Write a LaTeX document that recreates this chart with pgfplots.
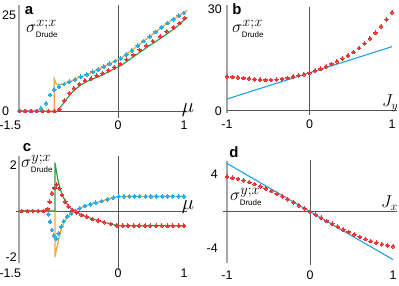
\documentclass[border=0pt]{standalone}
\usepackage{fontspec}
\setmainfont{Liberation Sans}
\usepackage{pgfplots}
\pgfplotsset{compat=1.18}
\definecolor{cred}{RGB}{233,52,52}
\definecolor{cblue}{RGB}{41,171,226}
\definecolor{corange}{RGB}{246,163,66}
\definecolor{cgreen}{RGB}{40,165,75}
\definecolor{cline}{RGB}{30,160,225}
\definecolor{axgray}{RGB}{165,165,165}
\definecolor{zgray}{RGB}{85,85,85}
\newcommand{\sig}[1]{\fontsize{19}{20}\selectfont$\sigma^{#1}_{\mbox{\fontsize{8}{9}\selectfont Drude}}$}
\tikzset{
  gl/.style={axgray, line width=1.8pt},
  zl/.style={zgray, line width=0.9pt},
}
\pgfplotsset{
  panel/.style={scale only axis, clip=false, axis line style={draw=none},
    major tick length=0pt, tick style={draw=none},
    ticklabel style={font=\fontsize{12.5}{14}\selectfont, inner sep=0pt},
    xticklabel style={anchor=center}},
  dotR/.style={only marks, mark=*, mark size=1.85pt, color=cred, mark options={fill=cred, draw=cred, line width=0pt}},
  dotB/.style={only marks, mark=*, mark size=1.85pt, color=cblue, mark options={fill=cblue, draw=cblue, line width=0pt}},
  lnO/.style={no marks, color=corange, line width=1.3pt},
  lnG/.style={no marks, color=cgreen, line width=1.2pt},
  lnB/.style={no marks, color=cline, line width=1.1pt},
}
\begin{document}
\begin{tikzpicture}
\useasboundingbox (0,0) rectangle (399bp,286bp);
% ---------------- panel a
\begin{axis}[panel, at={(19bp,168bp)}, anchor=south west, width=165bp, height=113bp,
  xmin=-1.5, xmax=1, ymin=-1.82, ymax=27.6,
  xtick={-1.5,0,1}, xticklabels={\makebox[0pt][r]{-1.5\kern-2bp},0,1}, xticklabel style={yshift=-7bp},
  ytick={0,25}, yticklabels={0,25}, yticklabel style={anchor=west, xshift=-17bp}]
\draw[gl] (-1.5,-0.5) -- (-1.5,27.6);
\draw[zl] (0,-1.82) -- (0,27.6);
\draw[zl] (-1.5,0) -- (1.05,0);
\addplot[dotB] coordinates {(-1.5,0) (-1.413,0) (-1.326,0) (-1.24,0) (-1.167,0.7) (-1.09,2.0) (-1.03,4.2) (-0.965,5.6) (-0.894,6.3) (-0.818,7.0) (-0.738,7.6) (-0.65,8.2) (-0.565,8.9) (-0.474,9.5) (-0.383,10.2) (-0.3,10.8) (-0.215,11.6) (-0.13,12.3) (-0.045,13.0) (0.04,13.7) (0.125,14.7) (0.21,15.8) (0.3,17.0) (0.39,18.2) (0.48,19.4) (0.57,20.6) (0.66,21.8) (0.75,22.9) (0.84,23.9) (0.92,24.8) (1.0,25.5)};
\addplot[dotR] coordinates {(-1.485,0) (-1.4,0) (-1.313,0) (-1.226,0) (-1.139,0) (-1.052,0) (-0.965,0) (-0.89,0.45) (-0.814,2.7) (-0.738,4.6) (-0.667,5.9) (-0.586,7.0) (-0.5,7.9) (-0.409,8.5) (-0.323,9.2) (-0.232,9.8) (-0.147,10.6) (-0.055,11.4) (0.04,12.2) (0.13,13.4) (0.23,14.6) (0.33,15.9) (0.43,17.0) (0.53,18.2) (0.64,19.4) (0.74,20.7) (0.84,21.8) (0.93,22.9) (1.01,24.2)};
\addplot[lnO] coordinates {(-1.5,0) (-0.965,0) (-0.965,8.3) (-0.935,7.1) (-0.9,6.8) (-0.818,7.1) (-0.738,7.6) (-0.65,8.2) (-0.565,8.9) (-0.474,9.5) (-0.383,10.2) (-0.3,10.8) (-0.13,12.3) (0.04,13.7) (0.21,15.8) (0.39,18.2) (0.57,20.6) (0.75,22.9) (0.92,24.8) (1.05,26.2)};
\addplot[lnG] coordinates {(-1.5,0) (-0.93,-0.2) (-0.87,1.0) (-0.80,2.6) (-0.72,4.4) (-0.65,5.6) (-0.57,6.7) (-0.48,7.6) (-0.39,8.3) (-0.3,8.9) (-0.21,9.6) (-0.12,10.4) (-0.03,11.2) (0.06,12.0) (0.25,14.3) (0.45,16.7) (0.66,19.1) (0.86,21.5) (1.05,24.4)};
\end{axis}
% ---------------- panel b
\begin{axis}[panel, at={(227bp,171bp)}, anchor=south west, width=165bp, height=110.16bp,
  xmin=-1, xmax=1, ymin=-1.2, ymax=31.2,
  xtick={-1,0,1}, xticklabels={-1,0,1}, xticklabel style={yshift=-9bp},
  ytick={0,30}, yticklabels={0,30}, yticklabel style={anchor=east, xshift=-5bp}]
\draw[gl] (-1,-0.6) -- (-1,31.2);
\draw[zl] (0,-1.2) -- (0,30.6);
\draw[zl] (-1,0) -- (1.06,0);
\addplot[lnB] coordinates {(-1,3.5) (1,18.9)};
\addplot[dotR] coordinates {(-1,10.1) (-0.933,10.0) (-0.867,9.9) (-0.8,9.7) (-0.733,9.5) (-0.667,9.3) (-0.6,9.15) (-0.533,9.1) (-0.467,9.1) (-0.4,9.2) (-0.333,9.4) (-0.267,9.7) (-0.2,10.1) (-0.133,10.4) (-0.067,10.8) (0,11.2) (0.067,11.8) (0.133,12.4) (0.2,13.1) (0.267,13.8) (0.333,14.6) (0.4,15.4) (0.467,16.3) (0.533,17.3) (0.6,18.5) (0.667,19.8) (0.733,21.3) (0.8,23.0) (0.867,24.9) (0.933,26.9) (1.0,29.0)};
\end{axis}
% ---------------- panel c
\begin{axis}[panel, at={(19bp,16bp)}, anchor=south west, width=165bp, height=114bp,
  xmin=-1.5, xmax=1, ymin=-2.565, ymax=2.39,
  xtick={-1.5,0,1}, xticklabels={\makebox[0pt][r]{-1.5\kern-2bp},0,1}, xticklabel style={yshift=-3bp},
  ytick={-2,2}, yticklabels={-2,2}, yticklabel style={anchor=east, xshift=-2bp}]
\draw[gl] (-1.5,-2.26) -- (-1.5,2.39);
\draw[zl] (0,-2.565) -- (0,2.39);
\draw[zl] (-1.55,0) -- (1.05,0);
\addplot[dotB] coordinates {(-1.46,0) (-1.37,0) (-1.29,0) (-1.21,0) (-1.126,0) (-1.056,-0.14) (-1.03,-0.46) (-1.0,-0.83) (-0.97,-1.06) (-0.935,-1.2) (-0.9,-0.97) (-0.86,-0.68) (-0.82,-0.44) (-0.77,-0.24) (-0.71,-0.1) (-0.65,0) (-0.58,0.12) (-0.5,0.22) (-0.42,0.29) (-0.34,0.36) (-0.25,0.43) (-0.16,0.51) (-0.07,0.58) (0.01,0.63) (0.09,0.64) (0.17,0.64) (0.25,0.64) (0.33,0.64) (0.42,0.64) (0.5,0.64) (0.58,0.64) (0.67,0.64) (0.75,0.64) (0.83,0.64) (0.92,0.64) (1.0,0.64)};
\addplot[dotR] coordinates {(-1.46,0) (-1.37,0) (-1.29,0) (-1.21,0) (-1.126,0) (-1.065,0.09) (-1.035,0.4) (-1.0,0.77) (-0.965,1.0) (-0.93,1.15) (-0.89,0.99) (-0.85,0.7) (-0.8,0.4) (-0.75,0.19) (-0.69,0.04) (-0.626,-0.06) (-0.55,-0.17) (-0.474,-0.25) (-0.39,-0.35) (-0.3,-0.41) (-0.21,-0.49) (-0.11,-0.56) (-0.02,-0.63) (0.07,-0.64) (0.15,-0.64) (0.24,-0.64) (0.32,-0.64) (0.41,-0.64) (0.49,-0.64) (0.58,-0.64) (0.66,-0.64) (0.75,-0.64) (0.83,-0.64) (0.92,-0.64) (1.0,-0.64)};
\addplot[lnO] coordinates {(-1.5,0) (-0.955,0) (-0.955,-2.0) (-0.92,-1.5) (-0.9,-1.25) (-0.86,-0.8) (-0.82,-0.5) (-0.77,-0.27) (-0.71,-0.1) (-0.65,0) (-0.58,0.12) (-0.5,0.22) (-0.42,0.29) (-0.34,0.36) (-0.25,0.43) (-0.16,0.51) (-0.07,0.58) (0.0,0.63) (1.03,0.64)};
\addplot[lnG] coordinates {(-1.5,0) (-0.955,0) (-0.955,2.1) (-0.914,1.4) (-0.88,1.0) (-0.85,0.74) (-0.8,0.43) (-0.75,0.21) (-0.69,0.05) (-0.626,-0.06) (-0.55,-0.17) (-0.474,-0.25) (-0.39,-0.35) (-0.3,-0.41) (-0.21,-0.49) (-0.11,-0.56) (0.0,-0.64) (1.03,-0.64)};
\end{axis}
% ---------------- panel d
\begin{axis}[panel, at={(227bp,21bp)}, anchor=south west, width=166bp, height=105bp,
  xmin=-1, xmax=1, ymin=-5.78, ymax=5.57,
  xtick={-1,0,1}, xticklabels={-1,0,1}, xticklabel style={yshift=-10bp},
  ytick={-4,4}, yticklabels={-4,4}, yticklabel style={anchor=east, xshift=-9bp}]
\draw[gl] (-1,-5.57) -- (-1,5.46);
\draw[zl] (0,-5.78) -- (0,5.57);
\draw[zl] (-1.05,0) -- (1.05,0);
\addplot[lnB] coordinates {(-1,5.2) (1,-5.2)};
\addplot[dotR] coordinates {(-1,3.76) (-0.933,3.65) (-0.867,3.53) (-0.8,3.37) (-0.733,3.19) (-0.667,2.97) (-0.6,2.74) (-0.533,2.49) (-0.467,2.21) (-0.4,1.93) (-0.333,1.64) (-0.267,1.33) (-0.2,1.01) (-0.133,0.68) (-0.067,0.34) (0,0) (0.067,-0.34) (0.133,-0.68) (0.2,-1.01) (0.267,-1.33) (0.333,-1.64) (0.4,-1.93) (0.467,-2.21) (0.533,-2.49) (0.6,-2.74) (0.667,-2.97) (0.733,-3.19) (0.8,-3.37) (0.867,-3.53) (0.933,-3.65) (1.0,-3.76)};
\end{axis}
% ---------------- labels
\node[anchor=base, font=\fontsize{15}{16}\selectfont\bfseries, inner sep=0] at (29bp,271bp) {a};
\node[anchor=base, font=\fontsize{15}{16}\selectfont\bfseries, inner sep=0] at (237bp,271bp) {b};
\node[anchor=base, font=\fontsize{15}{16}\selectfont\bfseries, inner sep=0] at (27bp,134bp) {c};
\node[anchor=base, font=\fontsize{15}{16}\selectfont\bfseries, inner sep=0] at (234bp,128bp) {d};
\node[anchor=base west, inner sep=0] at (26bp,253bp) {\sig{x{;}x}};
\node[anchor=base west, inner sep=0] at (232bp,253bp) {\sig{x{;}x}};
\node[anchor=base west, inner sep=0] at (21bp,118bp) {\sig{y{;}x}};
\node[anchor=base west, inner sep=0] at (230bp,85bp) {\sig{y{;}x}};
\node[anchor=base, inner sep=0] at (188bp,173bp) {\fontsize{20}{22}\selectfont$\mu$};
\node[anchor=base, inner sep=0] at (188bp,76bp) {\fontsize{20}{22}\selectfont$\mu$};
\node[anchor=base west, inner sep=0] at (382bp,179bp) {\fontsize{17}{19}\selectfont$J_y$};
\node[anchor=base west, inner sep=0] at (381bp,78bp) {\fontsize{17}{19}\selectfont$J_x$};
\end{tikzpicture}
\end{document}
